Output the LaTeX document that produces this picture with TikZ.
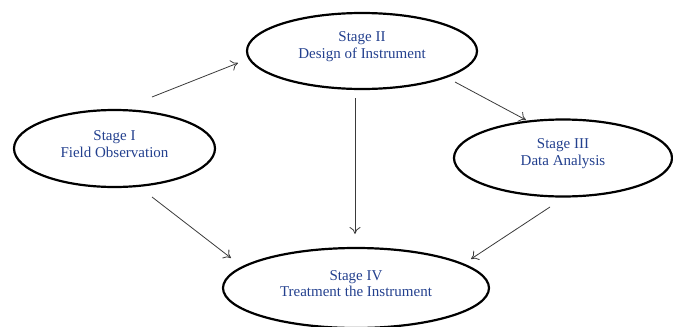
\documentclass[tikz,border=0pt]{standalone}
\usepackage{fontspec}
\setmainfont{Liberation Serif}
\usetikzlibrary{shapes.geometric,arrows.meta}
\definecolor{txtblue}{HTML}{23408E}
\definecolor{arrgray}{HTML}{3A3A3A}
\begin{document}
\begin{tikzpicture}[x=1pt,y=-1pt,
  stage/.style={ellipse,draw=black,line width=2.2pt,inner sep=0pt},
  stagetext/.style={text=txtblue,font=\fontsize{15}{16.5}\selectfont,align=center,yshift=4.5pt},
  conn/.style={draw=arrgray,line width=0.8pt,-{To[length=7pt,width=11pt]}}]
\useasboundingbox (0,0) rectangle (673,327);
\node[stage,minimum width=201pt,minimum height=77pt,
  label={[stagetext]center:Stage I\\Field Observation}] (s1) at (114.5,148.5) {};
\node[stage,minimum width=230pt,minimum height=76pt,
  label={[stagetext]center:Stage II\\Design of Instrument}] (s2) at (362,51) {};
\node[stage,minimum width=218pt,minimum height=77pt,
  label={[stagetext]center:Stage III\\Data Analysis}] (s3) at (563,158) {};
\node[stage,minimum width=266pt,minimum height=80pt,
  label={[stagetext]center:Stage IV\\Treatment the Instrument}] (s4) at (356,288) {};
\coordinate (a1s) at (152,97);  \coordinate (a1e) at (238,63);
\coordinate (a2s) at (455,82);  \coordinate (a2e) at (526,120);
\coordinate (a3s) at (355,98);  \coordinate (a3e) at (355,234);
\coordinate (a4s) at (152,197); \coordinate (a4e) at (231,258);
\coordinate (a5s) at (550,207); \coordinate (a5e) at (471,259);
\draw[conn] (a1s) -- (a1e);
\draw[conn] (a2s) -- (a2e);
\draw[conn] (a3s) -- (a3e);
\draw[conn] (a4s) -- (a4e);
\draw[conn] (a5s) -- (a5e);
\end{tikzpicture}
\end{document}
